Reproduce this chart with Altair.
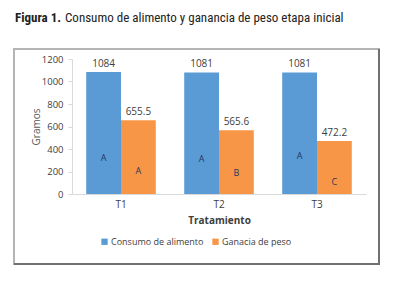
import altair as alt
import pandas as pd

tratamientos = ["T1", "T2", "T3"]
series = ["Consumo de alimento", "Ganacia de peso"]
consumo = [1084, 1081, 1081]
ganancia = [655.5, 565.6, 472.2]
consumo_lbl = ["1084", "1081", "1081"]
ganancia_lbl = ["655.5", "565.6", "472.2"]
letras_consumo = ["A", "A", "A"]
letras_ganancia = ["A", "B", "C"]
letra_pos_consumo = [320, 311, 338]
letra_pos_ganancia = [204, 187, 107]
colores = ["#5B9BD5", "#F79646"]

rows = []
for i, t in enumerate(tratamientos):
    rows.append(dict(t=t, s=series[0], v=consumo[i], lbl=consumo_lbl[i],
                     letra=letras_consumo[i], lp=letra_pos_consumo[i]))
    rows.append(dict(t=t, s=series[1], v=ganancia[i], lbl=ganancia_lbl[i],
                     letra=letras_ganancia[i], lp=letra_pos_ganancia[i]))
df = pd.DataFrame(rows)

FONT = "Open Sans"
TXT = "#404040"
TFONT = "Roboto Condensed, Liberation Sans Narrow, Roboto"

x = alt.X("t:N", sort=tratamientos, title="Tratamiento",
          scale=alt.Scale(paddingInner=0.29, paddingOuter=0.145),
          axis=alt.Axis(labelAngle=0, ticks=False, domainColor="#d9d9d9",
                        labelFont=FONT, labelFontSize=10, labelColor=TXT,
                        labelPadding=5, titleFont=FONT, titleFontSize=10,
                        titleFontWeight="bold", titleColor=TXT, titlePadding=6))
xo = alt.XOffset("s:N", sort=series, scale=alt.Scale(paddingInner=0, paddingOuter=0))
yscale = alt.Scale(domain=[0, 1200])
yaxis = alt.Axis(values=[0, 200, 400, 600, 800, 1000, 1200], grid=False,
                 format="d", labelOverlap=False, labelFlush=False,
                 domainColor="#d9d9d9", tickColor="#d9d9d9", tickSize=4,
                 labelFont=FONT, labelFontSize=9.5, labelColor=TXT,
                 labelPadding=5, titleFont=FONT, titleFontSize=10,
                 titleFontWeight="normal", titleColor="#595959",
                 titlePadding=0)
y = alt.Y("v:Q", title="Gramos", scale=yscale, axis=yaxis)

base = alt.Chart(df)

bars = base.mark_bar().encode(
    x=x, xOffset=xo, y=y,
    color=alt.Color("s:N", sort=series,
                    scale=alt.Scale(domain=series, range=colores),
                    legend=alt.Legend(title=None, orient="none", direction="horizontal",
                                      legendX=28, legendY=178, symbolType="square",
                                      symbolSize=40, symbolStrokeWidth=0,
                                      labelFont=FONT, labelFontSize=9, labelColor=TXT,
                                      columnPadding=7, labelOffset=2)),
)

vals = base.mark_text(font=FONT, fontSize=10, color=TXT, dy=-8).encode(
    x=x, xOffset=xo, y=y, text="lbl:N")

letras = base.mark_text(font=FONT, fontSize=9, color="#1F3864").encode(
    x=x, xOffset=xo, y=alt.Y("lp:Q", title="Gramos", scale=yscale, axis=yaxis),
    text="letra:N")

one = alt.Chart(pd.DataFrame({"k": [0]}))
frame = one.mark_rect(fill=None, stroke="#b4b4b4", strokeWidth=2).encode(
    x=alt.value(-58), x2=alt.value(307), y=alt.value(-10), y2=alt.value(205))
rright = one.mark_rule(color="#707070", strokeWidth=2).encode(
    x=alt.value(307), y=alt.value(-10), y2=alt.value(206))
rbottom = one.mark_rule(color="#707070", strokeWidth=2).encode(
    x=alt.value(-58), x2=alt.value(308), y=alt.value(205))

t1 = one.mark_text(text="Figura 1.", font=TFONT, fontSize=13,
                   fontWeight="bold", color="#222222", align="left",
                   baseline="middle").encode(x=alt.value(-57), y=alt.value(-41))
t2 = one.mark_text(text="Consumo de alimento y ganancia de peso etapa inicial",
                   font=TFONT, fontSize=13, color="#222222",
                   align="left", baseline="middle").encode(x=alt.value(-7), y=alt.value(-41))

chart = alt.layer(frame, rright, rbottom, bars, vals, letras, t1, t2).properties(
    width=294, height=135,
    autosize=alt.AutoSizeParams(type="none"),
    padding={"left": 64, "top": 51, "right": 30, "bottom": 80},
    background="white",
).configure_view(stroke=None)

chart.save("out.html", embed_options={"renderer": "svg", "actions": False})
